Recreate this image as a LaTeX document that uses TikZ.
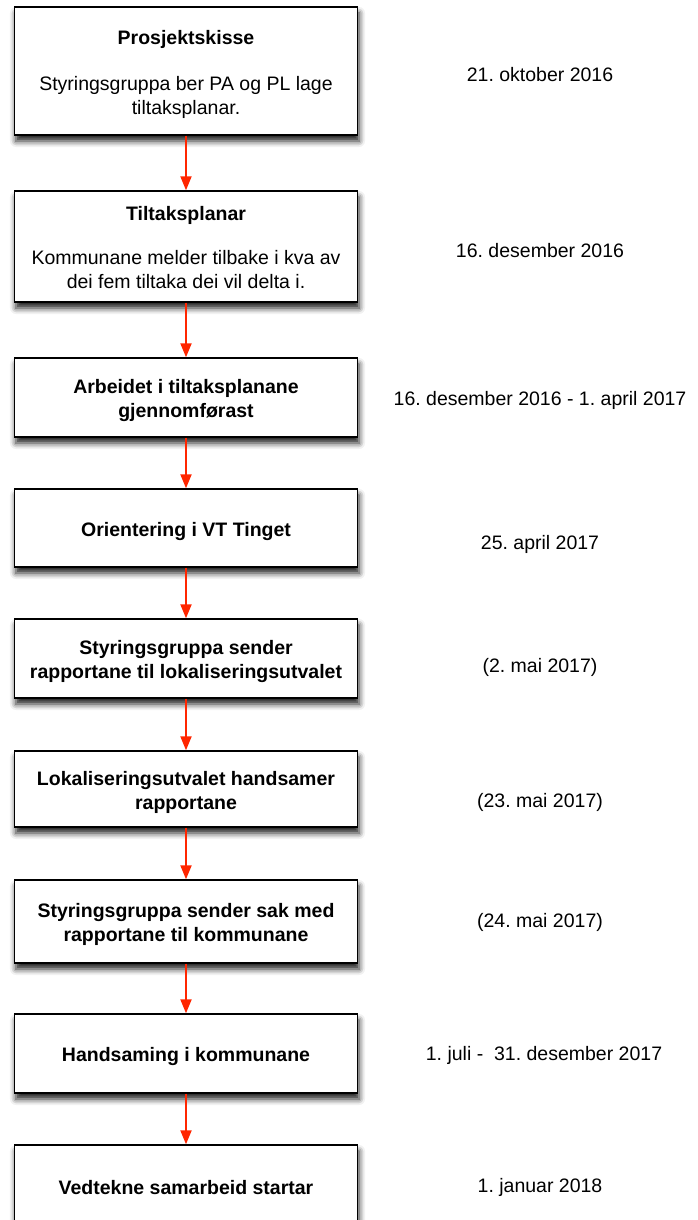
\documentclass[tikz,border=0pt]{standalone}
\usepackage{fontspec}
\setmainfont{Liberation Sans}
\frenchspacing
\usetikzlibrary{arrows.meta,shadows.blur}
\definecolor{arrowred}{RGB}{255,38,0}
\newcommand{\mytop}{\rule{0pt}{22pt}}
\newcommand{\mybot}{\rule[-6pt]{0pt}{6pt}}
\tikzset{
  stepbox/.style={draw=black, line width=1.4pt, fill=white, minimum width=343pt,
    align=center, inner sep=0pt,
    font=\fontsize{19.5}{24}\selectfont,
    blur shadow={shadow xshift=1.5pt, shadow yshift=-6pt, shadow blur radius=6pt, shadow opacity=90}},
  datelabel/.style={font=\fontsize{19.5}{24}\selectfont, anchor=center},
  flow/.style={draw=arrowred, color=arrowred, line width=2pt, -{Triangle[width=11pt,length=14pt]}}
}
\begin{document}
\begin{tikzpicture}[x=1pt,y=-1pt]
\useasboundingbox (0,0) rectangle (698,1220);
\node[stepbox, minimum height=128pt] (b1) at (186,71) {\mytop\textbf{Prosjektskisse}\\[22pt]Styringsgruppa ber PA og PL lage\\tiltaksplanar.\mybot};
\node[stepbox, minimum height=111pt] (b2) at (186,246.5) {\mytop\textbf{Tiltaksplanar}\\[20pt]Kommunane melder tilbake i kva av\\dei fem tiltaka dei vil delta i.\mybot};
\node[stepbox, minimum height=79pt] (b3) at (186,397.5) {\mytop\textbf{Arbeidet i tiltaksplanane}\\\textbf{gjennomførast}\mybot};
\node[stepbox, minimum height=78pt] (b4) at (186,528) {\mytop\textbf{Orientering i VT Tinget}\mybot};
\node[stepbox, minimum height=79pt] (b5) at (186,658.5) {\mytop\textbf{Styringsgruppa sender}\\\textbf{rapportane til lokaliseringsutvalet}\mybot};
\node[stepbox, minimum height=76pt] (b6) at (186,789) {\mytop\textbf{Lokaliseringsutvalet handsamer}\\\textbf{rapportane}\mybot};
\node[stepbox, minimum height=83pt] (b7) at (186,921.5) {\mytop\textbf{Styringsgruppa sender sak med}\\\textbf{rapportane til kommunane}\mybot};
\node[stepbox, minimum height=79pt] (b8) at (186,1053.5) {\mytop\textbf{Handsaming i kommunane}\mybot};
\node[stepbox, minimum height=82pt] (b9) at (186,1186) {\mytop\textbf{Vedtekne samarbeid startar}\mybot};
\draw[flow] (b1) -- (b2);
\draw[flow] (b2) -- (b3);
\draw[flow] (b3) -- (b4);
\draw[flow] (b4) -- (b5);
\draw[flow] (b5) -- (b6);
\draw[flow] (b6) -- (b7);
\draw[flow] (b7) -- (b8);
\draw[flow] (b8) -- (b9);
\node[datelabel] (d1) at (540,75) {21. oktober 2016};
\node[datelabel] (d2) at (540,251) {16. desember 2016};
\node[datelabel] (d3) at (540,400) {16. desember 2016 - 1. april 2017};
\node[datelabel] (d4) at (540,544) {25. april 2017};
\node[datelabel] (d5) at (540,667) {(2. mai 2017)};
\node[datelabel] (d6) at (540,802) {(23. mai 2017)};
\node[datelabel] (d7) at (540,922) {(24. mai 2017)};
\node[datelabel] (d8) at (544,1055) {1. juli -\ \ 31. desember 2017};
\node[datelabel] (d9) at (540,1187) {1. januar 2018};
\end{tikzpicture}
\end{document}
